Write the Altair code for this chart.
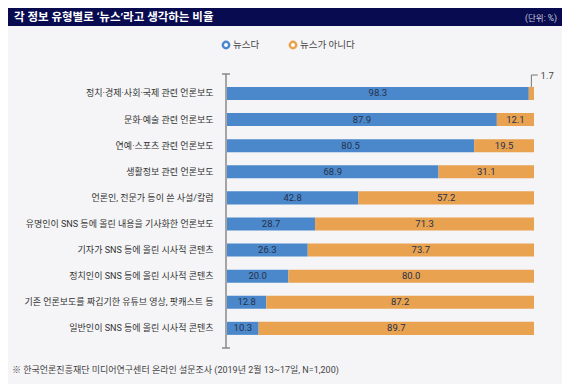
import altair as alt
import pandas as pd

# ---- data ----
categories = [
    "정치·경제·사회·국제 관련 언론보도",
    "문화·예술 관련 언론보도",
    "연예·스포츠 관련 언론보도",
    "생활정보 관련 언론보도",
    "언론인, 전문가 등이 쓴 사설/칼럼",
    "유명인이 SNS 등에 올린 내용을 기사화한 언론보도",
    "기자가 SNS 등에 올린 시사적 콘텐츠",
    "정치인이 SNS 등에 올린 시사적 콘텐츠",
    "기존 언론보도를 짜깁기한 유튜브 영상, 팟캐스트 등",
    "일반인이 SNS 등에 올린 시사적 콘텐츠",
]
news = [98.3, 87.9, 80.5, 68.9, 42.8, 28.7, 26.3, 20.0, 12.8, 10.3]
not_news = [1.7, 12.1, 19.5, 31.1, 57.2, 71.3, 73.7, 80.0, 87.2, 89.7]
series = ["뉴스다", "뉴스가 아니다"]

title_text = "각 정보 유형별로 ‘뉴스’라고 생각하는 비율"
unit_text = "(단위: %)"
source_text = "※ 한국언론진흥재단 미디어연구센터 온라인 설문조사 (2019년 2월 13~17일, N=1,200)"

# ---- style ----
FONT = "Roboto, Noto Sans CJK KR"
NUMFONT = "Roboto"
BLUE = "#4a88cb"
ORANGE = "#e8a250"
COLORS = [BLUE, ORANGE]
NAVY = "#080b50"
BG = "#f5f5f7"

rows = []
for c, n, o in zip(categories, news, not_news):
    rows.append(dict(cat=c, series=series[0], start=0.0, end=n, value=n))
    rows.append(dict(cat=c, series=series[1], start=n, end=n + o, value=o))
df = pd.DataFrame(rows)
df["mid"] = (df["start"] + df["end"]) / 2
df_in = df[df["value"] >= 5]

W, H = 307, 261
PAD = {"left": 219, "top": 72.4, "right": 28, "bottom": 42.6}

yenc = alt.Y(
    "cat:N",
    sort=categories,
    scale=alt.Scale(paddingInner=0.5, paddingOuter=0.25),
    axis=alt.Axis(
        title=None, domain=False, ticks=False, labelPadding=14, labelLimit=0,
        labelFont=FONT, labelFontSize=9, labelColor="#333333",
    ),
)
xscale = alt.Scale(domain=[0, 100], nice=False, zero=True)

bars = alt.Chart(df).mark_bar().encode(
    y=yenc,
    x=alt.X("start:Q", scale=xscale, axis=None),
    x2="end:Q",
    fill=alt.Fill("series:N", scale=alt.Scale(domain=series, range=COLORS),
                  legend=None),
)

labels = alt.Chart(df_in).mark_text(
    font=NUMFONT, fontSize=9.5, color="#26304a"
).encode(
    y=alt.Y("cat:N", sort=categories),
    x=alt.X("mid:Q", scale=xscale),
    text=alt.Text("value:Q", format=".1f"),
)

# small-segment annotation (first row)
ann = pd.DataFrame({
    "x": [news[0] + not_news[0] / 2],
    "x2": [news[0] + not_news[0] / 2 + 2.1],
    "xt": [news[0] + not_news[0] / 2 + 3.0],
    "t": [f"{not_news[0]:.1f}"],
})
lead_v = alt.Chart(ann).mark_rule(color="#777777", strokeWidth=1).encode(
    x=alt.X("x:Q", scale=xscale), y=alt.value(-5.4), y2=alt.value(6.5)
)
lead_h = alt.Chart(ann).mark_rule(color="#777777", strokeWidth=1).encode(
    x=alt.X("x:Q", scale=xscale), x2="x2:Q", y=alt.value(-5.4)
)
lead_t = alt.Chart(ann).mark_text(
    font=NUMFONT, fontSize=9.5, color="#444444", align="left", baseline="middle"
).encode(x=alt.X("xt:Q", scale=xscale), y=alt.value(-4.4), text="t:N")

one = pd.DataFrame({"a": [0]})

# legend (rings + labels)
legend_layers = []
LEG_X = [-1, 66]
LEG_Y = -35.4
for s, col, lx in zip(series, COLORS, LEG_X):
    legend_layers.append(
        alt.Chart(one).mark_point(
            shape="circle", filled=False, fill="#ffffff", fillOpacity=1,
            stroke=col, strokeWidth=2.5, size=40, opacity=1,
        ).encode(x=alt.value(lx), y=alt.value(LEG_Y))
    )
    legend_layers.append(
        alt.Chart(one).mark_text(
            text=s, font=FONT, fontSize=9.5, color="#444444",
            align="left", baseline="middle",
        ).encode(x=alt.value(lx + 7), y=alt.value(LEG_Y))
    )

axis_line = alt.Chart(one).mark_rule(color="#888888", strokeWidth=1.5).encode(
    x=alt.value(-1), y=alt.value(-6.4), y2=alt.value(267.6)
)
cap_top = alt.Chart(one).mark_rule(color="#888888", strokeWidth=1.5).encode(
    x=alt.value(-5), x2=alt.value(3), y=alt.value(-6.4)
)
cap_bot = alt.Chart(one).mark_rule(color="#888888", strokeWidth=1.5).encode(
    x=alt.value(-5), x2=alt.value(3), y=alt.value(267.6)
)

header = alt.Chart(one).mark_rect(color=NAVY).encode(
    x=alt.value(-PAD["left"]), x2=alt.value(W + PAD["right"]),
    y=alt.value(-PAD["top"]), y2=alt.value(-PAD["top"] + 18),
)
title = alt.Chart(one).mark_text(
    text=title_text, font=FONT, fontSize=11.5, fontWeight="bold", color="white",
    align="left", baseline="middle",
).encode(x=alt.value(-213), y=alt.value(-PAD["top"] + 9.5))
unit = alt.Chart(one).mark_text(
    text=unit_text, font=FONT, fontSize=8.5, color="#c8cadb",
    align="right", baseline="middle",
).encode(x=alt.value(W + PAD["right"] - 5), y=alt.value(-PAD["top"] + 9.5))
source = alt.Chart(one).mark_text(
    text=source_text, font=FONT, fontSize=9, color="#444444",
    align="left", baseline="middle",
).encode(x=alt.value(-215), y=alt.value(289.6))

chart = alt.layer(
    header, title, unit, bars, labels, lead_v, lead_h, lead_t,
    axis_line, cap_top, cap_bot, source, *legend_layers,
).properties(
    width=W, height=H, padding=PAD,
    autosize=alt.AutoSizeParams(type="none"),
).configure(background=BG).configure_view(stroke=None)

chart.save("out.html", embed_options={"renderer": "svg", "actions": False})
